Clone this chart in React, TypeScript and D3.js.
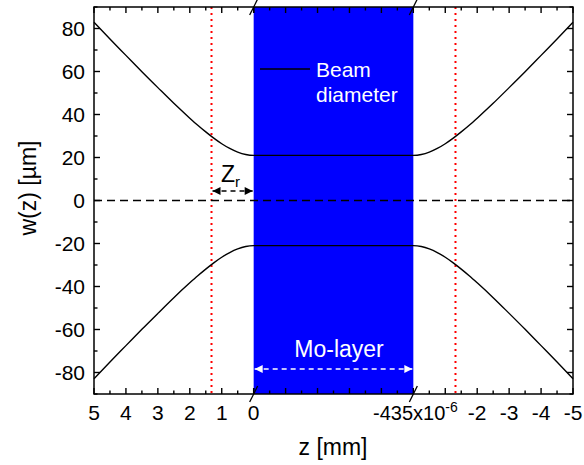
import React from 'react';
import * as d3 from 'd3';

// beam radius (mm -> µm), one side of the focus
const zMm = [0, 0.25, 0.5, 0.75, 1.0, 1.25, 1.5, 1.75, 2.0, 2.5, 3.0, 3.5, 4.0, 4.5, 5.0];
const wUm = [21, 21.4, 22.5, 24.2, 26.4, 29.0, 31.9, 35.0, 38.3, 45.2, 52.5, 59.9, 67.5, 75.1, 82.9];

const layerEnd = -435e-6; // Mo-layer thickness in mm
const rayleigh = 1.32; // Zr in mm

const yTicks = [-80, -60, -40, -20, 0, 20, 40, 60, 80];
const yMinor = [-90, -70, -50, -30, -10, 10, 30, 50, 70, 90];
const xLeftTicks = [5, 4, 3, 2, 1, 0];
const xRightTicks = [-1, -2, -3, -4, -5];
const xRightLabels = ['-2', '-3', '-4', '-5'];

const W = 584;
const H = 465;
const m = { left: 94, right: 11, top: 7, bottom: 71 };
const FONT = 'Liberation Sans, Arial, sans-serif';

const App = () => {
  const x0 = m.left;
  const x3 = W - m.right;
  const segW = (x3 - x0) / 3;
  const x = d3.scaleLinear()
    .domain([5, 0, layerEnd, -5])
    .range([x0, x0 + segW, x0 + 2 * segW, x3]);
  const y = d3.scaleLinear().domain([-90, 90]).range([H - m.bottom, m.top]);

  const top = m.top;
  const bottom = H - m.bottom;

  // full curve: left branch, flat inside the layer, right branch
  const pts = [
    ...zMm.map((z, i) => [z, wUm[i]]).reverse(),
    ...zMm.map((z, i) => [layerEnd - z, wUm[i]]),
  ];
  const line = d3.line<number[]>()
    .x(d => x(d[0]))
    .y(d => y(d[1]))
    .curve(d3.curveMonotoneX);

  const midMajor = d3.range(0, 6).map(i => (layerEnd * i) / 5);
  const midMinor = d3.range(0, 5).map(i => (layerEnd * (i + 0.5)) / 5);
  const xMinor = [
    ...[4.5, 3.5, 2.5, 1.5, 0.5],
    ...[-0.5, -1.5, -2.5, -3.5, -4.5].map(v => v + layerEnd),
  ];
  const xMajor = [...xLeftTicks, ...midMajor, ...xRightTicks.map(v => v + layerEnd)];
  const xMinorAll = [...xMinor, ...midMinor];

  const major = 6;
  const minor = 3.5;

  return (
    <svg width={W} height={H} style={{ position: 'absolute', left: 0, top: 0 }}
      fontFamily={FONT}>
      <defs>
        <marker id="ah-black" viewBox="0 0 10 10" refX="10" refY="5" markerWidth="10" markerHeight="8"
          markerUnits="userSpaceOnUse" orient="auto-start-reverse">
          <path d="M0,0 L10,5 L0,10 Z" fill="#000" />
        </marker>
        <marker id="ah-white" viewBox="0 0 10 10" refX="10" refY="5" markerWidth="10" markerHeight="8"
          markerUnits="userSpaceOnUse" orient="auto-start-reverse">
          <path d="M0,0 L10,5 L0,10 Z" fill="#fff" />
        </marker>
      </defs>
      <rect width={W} height={H} fill="#fff" />

      {/* Mo layer */}
      <rect x={x(0)} y={top} width={x(layerEnd) - x(0)} height={bottom - top} fill="#0000ff" />

      {/* Rayleigh range markers */}
      {[rayleigh, layerEnd - rayleigh].map((z, i) => (
        <line key={i} x1={x(z)} x2={x(z)} y1={top} y2={bottom}
          stroke="#ff0000" strokeWidth={2} strokeDasharray="2,4" />
      ))}

      {/* zero line */}
      <line x1={x0} x2={x3} y1={y(0)} y2={y(0)} stroke="#000" strokeWidth={1.4} strokeDasharray="8,5" />

      {/* beam envelope */}
      <path d={line(pts) ?? ''} fill="none" stroke="#000" strokeWidth={1.4} />
      <path d={line(pts.map(p => [p[0], -p[1]])) ?? ''} fill="none" stroke="#000" strokeWidth={1.4} />

      {/* legend */}
      <line x1={260} x2={310} y1={69} y2={69} stroke="#000" strokeWidth={1.4} />
      <text x={316} y={77} fontSize={21} fill="#fff">Beam</text>
      <text x={316} y={102} fontSize={21} fill="#fff">diameter</text>

      {/* Zr annotation */}
      <line x1={x(rayleigh) + 1} x2={x(0) - 1} y1={191} y2={191} stroke="#000" strokeWidth={1.4}
        strokeDasharray="5,4" markerStart="url(#ah-black)" markerEnd="url(#ah-black)" />
      <text x={221} y={182} fontSize={23}>Z<tspan fontSize={15} dy={5}>r</tspan></text>

      {/* Mo-layer annotation */}
      <line x1={x(0) + 1} x2={x(layerEnd) - 1} y1={369} y2={369} stroke="#fff" strokeWidth={1.4}
        strokeDasharray="5,4" markerStart="url(#ah-white)" markerEnd="url(#ah-white)" />
      <text x={339} y={357} fontSize={23} fill="#fff" textAnchor="middle">Mo-layer</text>

      {/* frame */}
      <rect x={x0} y={top} width={x3 - x0} height={bottom - top} fill="none" stroke="#000" strokeWidth={1.5} />

      {/* y ticks (inside, mirrored on right) */}
      {yTicks.map(v => (
        <g key={'y' + v}>
          <line x1={x0} x2={x0 + major} y1={y(v)} y2={y(v)} stroke="#000" strokeWidth={1.4} />
          <line x1={x3} x2={x3 - major} y1={y(v)} y2={y(v)} stroke="#000" strokeWidth={1.4} />
          <text x={x0 - 9} y={y(v)} dy="0.36em" fontSize={21} textAnchor="end">{v}</text>
        </g>
      ))}
      {yMinor.map(v => (
        <g key={'ym' + v}>
          <line x1={x0} x2={x0 + minor} y1={y(v)} y2={y(v)} stroke="#000" strokeWidth={1.4} />
          <line x1={x3} x2={x3 - minor} y1={y(v)} y2={y(v)} stroke="#000" strokeWidth={1.4} />
        </g>
      ))}

      {/* x ticks */}
      {xMajor.map((v, i) => (
        <g key={'x' + i}>
          <line x1={x(v)} x2={x(v)} y1={bottom} y2={bottom - major} stroke="#000" strokeWidth={1.4} />
          <line x1={x(v)} x2={x(v)} y1={top} y2={top + major} stroke="#000" strokeWidth={1.4} />
        </g>
      ))}
      {xMinorAll.map((v, i) => (
        <g key={'xm' + i}>
          <line x1={x(v)} x2={x(v)} y1={bottom} y2={bottom - minor} stroke="#000" strokeWidth={1.4} />
          <line x1={x(v)} x2={x(v)} y1={top} y2={top + minor} stroke="#000" strokeWidth={1.4} />
        </g>
      ))}

      {/* axis breaks */}
      {[0, layerEnd].map((v, i) => (
        <g key={'b' + i}>
          <line x1={x(v) - 4} x2={x(v) + 4} y1={top + 8} y2={top - 8} stroke="#000" strokeWidth={1.3} />
          <line x1={x(v) - 4} x2={x(v) + 4} y1={bottom + 8} y2={bottom - 8} stroke="#000" strokeWidth={1.3} />
        </g>
      ))}

      {/* x tick labels */}
      {xLeftTicks.map(v => (
        <text key={'xl' + v} x={x(v)} y={bottom + 26} fontSize={21} textAnchor="middle">{v}</text>
      ))}
      <text x={373} y={bottom + 26} fontSize={20}>
        -435x10<tspan fontSize={14} dy={-8}>-6</tspan>
      </text>
      {xRightLabels.map(s => (
        <text key={'xr' + s} x={x(+s + layerEnd)} y={bottom + 26} fontSize={21} textAnchor="middle">{s}</text>
      ))}

      {/* axis titles */}
      <text x={333} y={455} fontSize={23} textAnchor="middle">z [mm]</text>
      <text transform="translate(36,188) rotate(-90)" fontSize={23} textAnchor="middle">
        w(z) [µm]
      </text>
    </svg>
  );
};

export default App;
